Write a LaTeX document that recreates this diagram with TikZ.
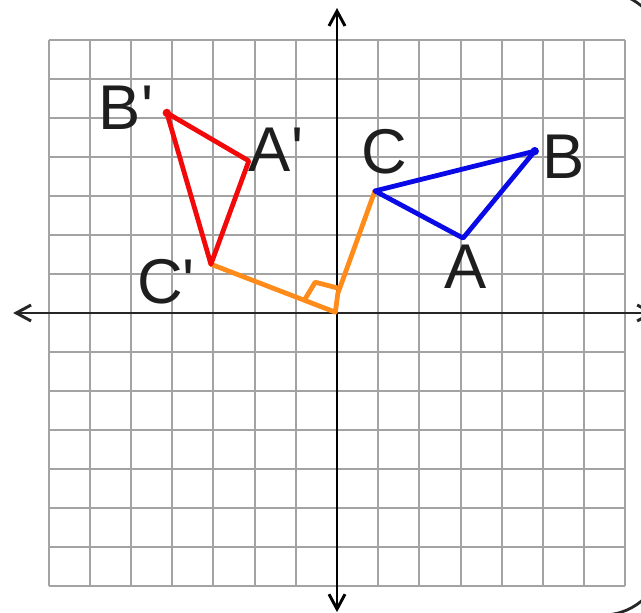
\documentclass[tikz,border=0pt]{standalone}
\usepackage{fontspec}
\setmainfont{Liberation Sans}
\usepackage{xcolor}
\usepackage{tikz}
\usetikzlibrary{arrows.meta}
\definecolor{GridGray}{HTML}{A3A3A3}
\definecolor{AxisInk}{HTML}{262626}
\definecolor{LabelInk}{HTML}{1E1E1E}
\definecolor{PenRed}{HTML}{F20A0A}
\definecolor{PenBlue}{HTML}{0A0AE6}
\definecolor{PenOrange}{HTML}{FF8C1A}

\begin{document}
\begin{tikzpicture}[
    x=1.03cm, y=0.975cm,
    gridline/.style={draw=GridGray, line width=1.5pt},
    axis/.style={draw=AxisInk, line width=2.1pt, {Straight Barb[length=3.7mm, width=4mm]}-{Straight Barb[length=3.7mm, width=4mm]}},
    pen/.style={line width=3.4pt, line cap=round, line join=round},
    lbl/.style={text=LabelInk, font=\fontsize{45}{45}\selectfont, inner sep=0pt, anchor=center}
]
\useasboundingbox (-8.18,-7.692) rectangle (7.379,8.026);
\begin{scope}[x=1cm, y=1cm]
\draw[line width=2pt, draw=AxisInk] (6.65,-7.55) arc[start angle=-90, end angle=0, radius=1.5] -- (8.15,6.525) arc[start angle=0, end angle=90, radius=1.5];
\end{scope}

\foreach \i in {-7,...,7} {
    \draw[gridline] (\i,-7) -- (\i,7);
    \draw[gridline] (-7,\i) -- (7,\i);
}
\draw[axis] (-7.86,0) -- (7.72,0);
\draw[axis, draw=black] (0,-7.67) -- (0,7.82);

\coordinate (O) at (-0.04,0.02);
\coordinate (A) at (3.06,1.92);
\coordinate (B) at (4.8,4.15);
\coordinate (C) at (0.92,3.13);
\coordinate (Ap) at (-2.14,3.9);
\coordinate (Bp) at (-4.13,5.13);
\coordinate (Cp) at (-3.06,1.25);
\coordinate (k1) at (0.02,0.5);
\coordinate (m1) at (-0.78,0.35);
\coordinate (m2) at (-0.53,0.79);
\coordinate (m3) at (0.02,0.64);

\draw[pen, draw=PenOrange] (Cp) -- (O) -- (k1) -- (C);
\draw[pen, draw=PenOrange] (m1) -- (m2) -- (m3);
\draw[pen, draw=PenBlue] (C) -- (B) -- (A) -- cycle;
\fill[PenBlue] (B) circle (3pt);
\draw[pen, draw=PenRed] (Bp) -- (Ap) -- (Cp) -- cycle;
\fill[PenRed] (Bp) circle (3pt);

\node[lbl] (labA) at (3.11,1.18) {A};
\node[lbl] (labB) at (5.49,4.0) {B};
\node[lbl] (labC) at (1.14,4.13) {C};
\node[lbl] (labAp) at (-1.48,4.18) {A\textquotesingle};
\node[lbl] (labBp) at (-5.12,5.26) {B\textquotesingle};
\node[lbl] (labCp) at (-4.15,0.79) {C\textquotesingle};
\end{tikzpicture}
\end{document}
